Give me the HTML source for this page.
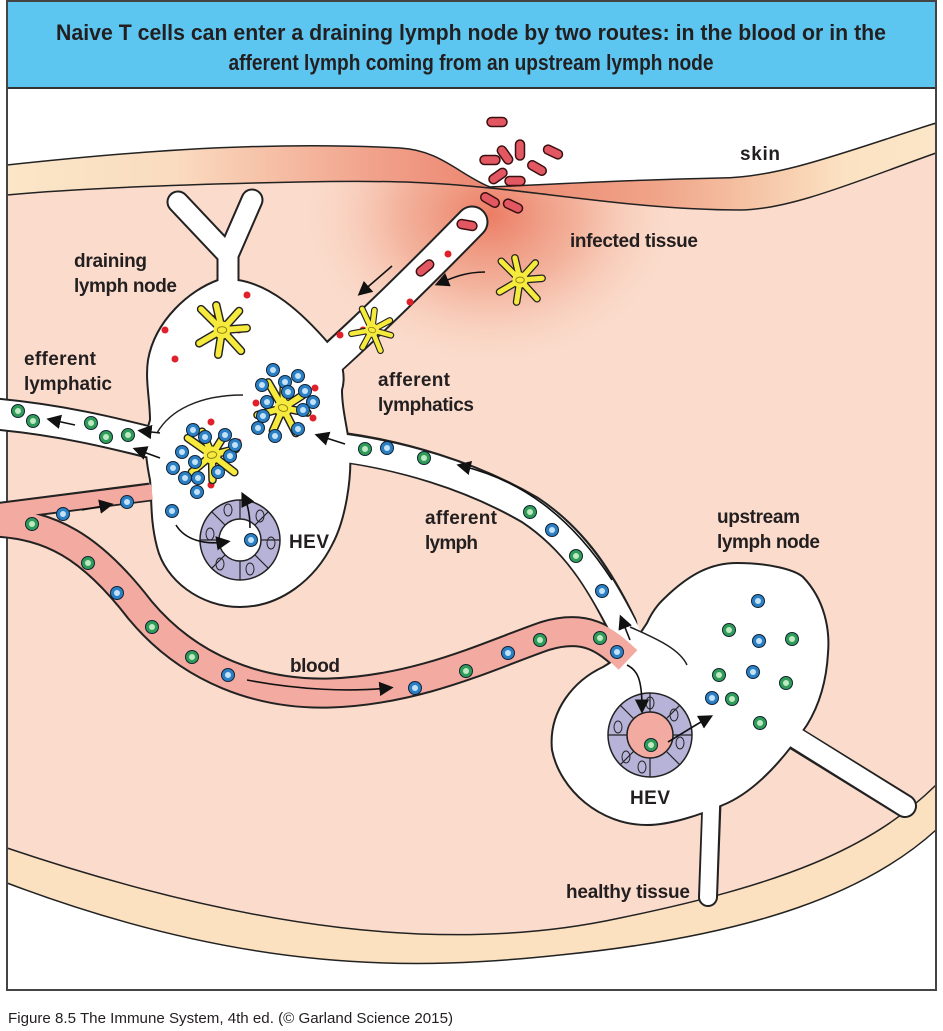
<!DOCTYPE html>
<html><head><meta charset="utf-8"><style>
html,body{margin:0;padding:0;background:#fff}
svg{display:block}
text{font-family:"Liberation Sans Narrow","Liberation Sans",sans-serif;font-weight:bold;fill:#231f20}
</style></head><body>
<svg width="943" height="1031" viewBox="0 0 943 1031" xmlns="http://www.w3.org/2000/svg">
<defs>
<linearGradient id="skin" x1="0" x2="1" y1="0" y2="0">
<stop offset="0" stop-color="#fbe6c8"/><stop offset="0.18" stop-color="#fadcc0"/>
<stop offset="0.4" stop-color="#f1a08a"/><stop offset="0.52" stop-color="#ec8670"/>
<stop offset="0.7" stop-color="#f0a488"/><stop offset="0.9" stop-color="#fbe2c2"/><stop offset="1" stop-color="#fbe6c8"/>
</linearGradient>
<radialGradient id="glow" cx="490" cy="215" r="200" gradientUnits="userSpaceOnUse" gradientTransform="translate(490 215) scale(1 0.8) translate(-490 -215)">
<stop offset="0" stop-color="#ec7c64"/><stop offset="0.45" stop-color="#f1a890" stop-opacity="0.8"/><stop offset="1" stop-color="#fbdccc" stop-opacity="0"/>
</radialGradient>
<clipPath id="tis"><rect x="7" y="89" width="929" height="901"/></clipPath>
<marker id="ah2" viewBox="0 0 10 10" refX="6" refY="5" markerWidth="9" markerHeight="9" orient="auto" markerUnits="strokeWidth">
<path d="M0,0 L10,5 L0,10 Z" fill="#111"/></marker>
<g id="gc"><circle r="6.5" fill="#2f9c57" stroke="#123" stroke-width="1"/><circle r="3" fill="#bfe8c4"/></g>
<g id="bc"><circle r="6.5" fill="#2b7fc4" stroke="#123" stroke-width="1"/><circle r="3" fill="#c3e2f8"/></g>
<g id="bac"><rect x="-10" y="-4.5" width="20" height="9" rx="4.5" fill="#e25762" stroke="#3a1010" stroke-width="1.5"/></g>
<g id="dc">
<path d="M0,0 L-22,-22 M0,0 L-6,-26 M0,0 L18,-20 M0,0 L26,-2 M0,0 L20,22 M0,0 L-4,26 M0,0 L-24,14" stroke="#222" stroke-width="9" stroke-linecap="round" fill="none"/>
<path d="M0,0 L-22,-22 M0,0 L-6,-26 M0,0 L18,-20 M0,0 L26,-2 M0,0 L20,22 M0,0 L-4,26 M0,0 L-24,14" stroke="#f6ea3c" stroke-width="6" stroke-linecap="round" fill="none"/>
<circle r="9" fill="#f6ea3c"/><ellipse rx="5" ry="3.5" fill="none" stroke="#8a7a10" stroke-width="1"/>
</g>
</defs>

<!-- tissue -->
<rect x="7" y="89" width="929" height="901" fill="#fbdccc"/>
<g clip-path="url(#tis)"><ellipse cx="490" cy="215" rx="230" ry="170" fill="url(#glow)"/></g>
<path d="M7,89 H936 V123 C850,150 780,178 720,178 C620,180 540,185 490,187 C460,175 440,150 400,148 C250,140 100,155 7,165 Z" fill="#fff"/>
<path d="M7,165 C100,155 250,140 400,148 C440,150 460,175 490,187 C540,185 620,180 720,178 C780,178 850,150 936,123 V153 C860,180 790,210 740,210 C650,210 560,195 490,188 C440,183 400,180 300,182 C150,185 60,190 7,195 Z" fill="url(#skin)" stroke="#222" stroke-width="1.5"/>
<path d="M7,848 C250,930 450,955 620,918 C780,885 870,850 936,785 V990 H7 Z" fill="#fbe1c0" stroke="#222" stroke-width="1.5"/>
<path d="M7,883 C250,975 420,970 560,955 C760,935 870,890 936,830 V990 H7 Z" fill="#fff" stroke="#222" stroke-width="1.5"/>

<!-- title -->
<rect x="7" y="0" width="929" height="88" fill="#5cc6f0"/>
<line x1="7" y1="88" x2="936" y2="88" stroke="#333" stroke-width="2"/>
<text x="471" y="40" font-size="22" text-anchor="middle" textLength="830" lengthAdjust="spacingAndGlyphs">Naive T cells can enter a draining lymph node by two routes: in the blood or in the</text>
<text x="471" y="70" font-size="22" text-anchor="middle" textLength="485" lengthAdjust="spacingAndGlyphs">afferent lymph coming from an upstream lymph node</text>
<rect x="7" y="1" width="929" height="989" fill="none" stroke="#444" stroke-width="2"/>

<!-- bacteria above skin -->
<use href="#bac" transform="translate(497,122)"/>
<use href="#bac" transform="translate(520,150) rotate(90)"/>
<use href="#bac" transform="translate(505,155) rotate(55)"/>
<use href="#bac" transform="translate(553,152) rotate(25)"/>
<use href="#bac" transform="translate(490,160)"/>
<use href="#bac" transform="translate(537,168) rotate(30)"/>
<use href="#bac" transform="translate(498,176) rotate(-35)"/>
<use href="#bac" transform="translate(515,181)"/>
<use href="#bac" transform="translate(490,200) rotate(30)"/>
<use href="#bac" transform="translate(513,206) rotate(25)"/>

<g fill="none" stroke="#222" stroke-linecap="round" stroke-linejoin="round">
<path d="M-5,414 C60,420 110,432 160,445" stroke-width="33"/>
<path d="M330,360 C380,315 430,265 472,222" stroke-width="33"/>
<path d="M228,310 L228,255 L178,202 M228,255 L252,200" stroke-width="23"/>
<path d="M340,447 C400,455 470,475 530,510 C575,540 600,580 622,625" stroke-width="31"/>
<path d="M790,735 L905,806" stroke-width="24"/>
<path d="M712,790 L708,897" stroke-width="20"/>
<path d="M-5,512 L150,492" stroke-width="19" stroke-linecap="butt"/>
<path d="M-5,522 C50,525 90,545 140,610 C190,670 260,695 330,693 C420,690 490,655 545,636 C585,624 605,638 628,660" stroke-width="31" stroke-linecap="butt"/>
</g>
<path d="M148,360 C155,320 190,290 218,280 L238,280 C270,285 300,310 330,345 C345,360 345,380 342,390 C342,410 348,430 350,450 C352,480 345,520 333,543 C315,580 280,607 240,607 C200,607 165,580 157,547 C150,520 152,500 150,480 C146,460 143,440 150,420 C150,400 145,380 148,360 Z" fill="#fff" stroke="#222" stroke-width="2"/>
<path d="M647,623 C655,605 665,598 670,593 C690,575 710,563 737,563 C770,563 795,570 803,577 C825,600 830,630 828,653 C826,690 815,712 807,725 C790,750 760,790 723,805 C700,815 670,825 647,825 C600,825 560,790 552,750 C548,710 575,680 603,667 C615,660 630,650 647,623 Z" fill="#fff" stroke="#222" stroke-width="2"/>
<g fill="none" stroke-linecap="round" stroke-linejoin="round">
<g stroke="#fff">
<path d="M-5,414 C60,420 110,432 165,446" stroke-width="29"/>
<path d="M325,365 C380,315 430,265 472,222" stroke-width="29"/>
<path d="M228,320 L228,255 L178,202 M228,255 L252,200" stroke-width="19"/>
<path d="M335,447 C400,455 470,475 530,510 C575,540 600,580 630,640" stroke-width="27"/>
<path d="M780,728 L905,806" stroke-width="20"/>
<path d="M712,780 L708,897" stroke-width="16"/>
</g>
<path d="M-5,512 L152,492" stroke="#f3aaa0" stroke-width="15" stroke-linecap="butt"/>
<path d="M-5,522 C50,525 90,545 140,610 C190,670 260,695 330,693 C420,690 490,655 545,636 C585,624 605,638 628,660" stroke="#f3aaa0" stroke-width="27" stroke-linecap="butt"/>
</g>
<path d="M243,395 C200,395 170,410 157,433" fill="none" stroke="#222" stroke-width="1.5"/>
<path d="M630,627 C660,640 680,650 687,665" fill="none" stroke="#222" stroke-width="1.5"/>

<g transform="translate(240,540)">
<circle r="40" fill="#b6b2d8" stroke="#222" stroke-width="1.5"/><circle r="21" fill="#fff" stroke="#222" stroke-width="1.5"/>
<g stroke="#222" stroke-width="1.2">
<line x1="21" y1="0" x2="40" y2="0"/><line x1="-21" y1="0" x2="-40" y2="0"/><line x1="0" y1="21" x2="0" y2="40"/><line x1="0" y1="-21" x2="0" y2="-40"/>
<line x1="15" y1="15" x2="28" y2="28"/><line x1="-15" y1="15" x2="-28" y2="28"/><line x1="15" y1="-15" x2="28" y2="-28"/><line x1="-15" y1="-15" x2="-28" y2="-28"/></g>
<g fill="none" stroke="#222" stroke-width="1"><ellipse cx="-30" cy="-6" rx="4" ry="6"/><ellipse cx="31" cy="3" rx="4" ry="6"/><ellipse cx="-12" cy="-30" rx="4" ry="6"/><ellipse cx="10" cy="29" rx="4" ry="6"/><ellipse cx="-20" cy="24" rx="4" ry="6"/><ellipse cx="20" cy="-24" rx="4" ry="6"/></g>
</g>
<g transform="translate(650,735)">
<circle r="42" fill="#b6b2d8" stroke="#222" stroke-width="1.5"/><circle r="23" fill="#f3aaa0" stroke="#222" stroke-width="1.5"/>
<g stroke="#222" stroke-width="1.2">
<line x1="23" y1="0" x2="42" y2="0"/><line x1="-23" y1="0" x2="-42" y2="0"/><line x1="0" y1="23" x2="0" y2="42"/><line x1="0" y1="-23" x2="0" y2="-42"/>
<line x1="16" y1="16" x2="30" y2="30"/><line x1="-16" y1="16" x2="-30" y2="30"/><line x1="16" y1="-16" x2="30" y2="-30"/><line x1="-16" y1="-16" x2="-30" y2="-30"/></g>
<g fill="none" stroke="#222" stroke-width="1"><ellipse cx="-32" cy="-8" rx="4" ry="6"/><ellipse cx="30" cy="8" rx="4" ry="6"/><ellipse cx="0" cy="-32" rx="4" ry="6"/><ellipse cx="-8" cy="32" rx="4" ry="6"/><ellipse cx="-24" cy="22" rx="4" ry="6"/><ellipse cx="24" cy="-20" rx="4" ry="6"/></g>
</g>

<g fill="#e0202a">
<circle cx="247" cy="295" r="3.5"/><circle cx="165" cy="330" r="3.5"/><circle cx="215" cy="318" r="3.5"/><circle cx="175" cy="359" r="3.5"/><circle cx="239" cy="330" r="3.5"/>
<circle cx="340" cy="335" r="3.5"/><circle cx="410" cy="302" r="3.5"/><circle cx="448" cy="254" r="3.5"/><circle cx="363" cy="330" r="3.5"/>
<circle cx="315" cy="388" r="3.5"/><circle cx="256" cy="403" r="3.5"/><circle cx="313" cy="418" r="3.5"/><circle cx="211" cy="422" r="3.5"/><circle cx="238" cy="442" r="3.5"/><circle cx="211" cy="485" r="3.5"/>
</g>
<use href="#bac" transform="translate(425,268) rotate(-40)"/>
<use href="#bac" transform="translate(467,225) rotate(10)"/>

<use href="#dc" transform="translate(222,330) scale(0.95)"/>
<use href="#dc" transform="translate(372,330) scale(0.75) rotate(20)"/>
<use href="#dc" transform="translate(520,280) scale(0.85)"/>
<use href="#dc" transform="translate(283,408) scale(0.95) rotate(15)"/>
<use href="#dc" transform="translate(212,455) scale(0.95) rotate(-10)"/>

<g>
<use href="#bc" x="273" y="370"/><use href="#bc" x="285" y="382"/><use href="#bc" x="298" y="376"/><use href="#bc" x="262" y="385"/><use href="#bc" x="305" y="391"/><use href="#bc" x="313" y="402"/><use href="#bc" x="267" y="402"/><use href="#bc" x="303" y="410"/><use href="#bc" x="258" y="428"/><use href="#bc" x="275" y="436"/><use href="#bc" x="298" y="429"/><use href="#bc" x="288" y="392"/><use href="#bc" x="263" y="416"/>
<use href="#bc" x="193" y="430"/><use href="#bc" x="205" y="437"/><use href="#bc" x="225" y="435"/><use href="#bc" x="182" y="452"/><use href="#bc" x="195" y="462"/><use href="#bc" x="173" y="468"/><use href="#bc" x="185" y="478"/><use href="#bc" x="198" y="478"/><use href="#bc" x="230" y="456"/><use href="#bc" x="218" y="472"/><use href="#bc" x="197" y="492"/><use href="#bc" x="235" y="445"/>
<use href="#bc" x="172" y="511"/><use href="#bc" x="251" y="540"/>
</g>
<use href="#gc" x="18" y="411"/><use href="#gc" x="33" y="421"/><use href="#gc" x="91" y="423"/><use href="#gc" x="106" y="437"/><use href="#gc" x="128" y="435"/>
<use href="#gc" x="32" y="524"/><use href="#bc" x="63" y="514"/><use href="#bc" x="127" y="502"/>
<use href="#gc" x="88" y="563"/><use href="#bc" x="117" y="593"/><use href="#gc" x="152" y="627"/><use href="#gc" x="192" y="657"/><use href="#bc" x="228" y="675"/><use href="#bc" x="415" y="688"/><use href="#gc" x="466" y="671"/><use href="#bc" x="508" y="653"/><use href="#gc" x="540" y="640"/><use href="#gc" x="600" y="638"/><use href="#bc" x="617" y="652"/>
<use href="#gc" x="365" y="449"/><use href="#bc" x="387" y="448"/><use href="#gc" x="424" y="458"/><use href="#gc" x="530" y="512"/><use href="#bc" x="552" y="530"/><use href="#gc" x="576" y="556"/><use href="#bc" x="602" y="591"/>
<use href="#bc" x="758" y="601"/><use href="#gc" x="729" y="630"/><use href="#bc" x="759" y="641"/><use href="#gc" x="792" y="639"/><use href="#gc" x="719" y="675"/><use href="#bc" x="753" y="672"/><use href="#gc" x="786" y="683"/><use href="#bc" x="712" y="698"/><use href="#gc" x="732" y="699"/><use href="#gc" x="760" y="723"/><use href="#gc" x="651" y="745"/>

<g fill="none" stroke="#111" stroke-width="1.6">
<path d="M75,425 L52,420" marker-end="url(#ah2)"/>
<path d="M160,433 L143,431" marker-end="url(#ah2)"/>
<path d="M160,458 L138,450" marker-end="url(#ah2)"/>
<path d="M82,510 L108,505" marker-end="url(#ah2)"/>
<path d="M345,444 L320,436" marker-end="url(#ah2)"/>
<path d="M392,266 L362,292" marker-end="url(#ah2)"/>
<path d="M485,272 C465,272 452,278 440,283" marker-end="url(#ah2)"/>
<path d="M250,528 C250,515 248,505 244,497" marker-end="url(#ah2)"/>
<path d="M176,525 C185,540 205,545 225,542" marker-end="url(#ah2)"/>
<path d="M247,680 C300,690 350,692 388,688" marker-end="url(#ah2)"/>
<path d="M612,580 C570,515 520,480 462,466" marker-end="url(#ah2)"/>
<path d="M630,640 L622,620" marker-end="url(#ah2)"/>
<path d="M627,665 C637,670 642,678 642,708" marker-end="url(#ah2)"/>
<path d="M668,742 C680,735 690,728 708,718" marker-end="url(#ah2)"/>
</g>

<g font-size="19" lengthAdjust="spacingAndGlyphs">
<text x="740" y="160" textLength="40">skin</text>
<text x="570" y="247" textLength="128">infected tissue</text>
<text x="74" y="267" textLength="73">draining</text><text x="74" y="292" textLength="103">lymph node</text>
<text x="24" y="365" textLength="72">efferent</text><text x="24" y="390" textLength="88">lymphatic</text>
<text x="378" y="386" textLength="72">afferent</text><text x="378" y="411" textLength="96">lymphatics</text>
<text x="289" y="548" textLength="40">HEV</text>
<text x="425" y="524" textLength="72">afferent</text><text x="425" y="549" textLength="53">lymph</text>
<text x="717" y="523" textLength="83">upstream</text><text x="717" y="548" textLength="103">lymph node</text>
<text x="290" y="672" textLength="50">blood</text>
<text x="630" y="804" textLength="40">HEV</text>
<text x="566" y="898" textLength="124">healthy tissue</text>
</g>
<text x="8" y="1023" font-size="15" style="font-weight:normal" textLength="445" lengthAdjust="spacingAndGlyphs">Figure 8.5  The Immune System, 4th ed. (© Garland Science 2015)</text>
</svg>
</body></html>
